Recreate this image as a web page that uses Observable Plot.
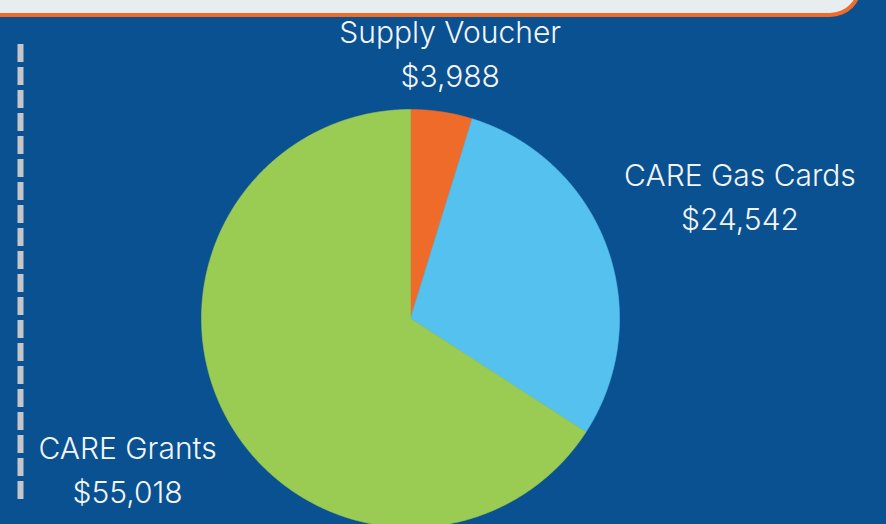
<!DOCTYPE html>
<html>
<head>
<meta charset="utf-8">
<script src="https://cdn.jsdelivr.net/npm/d3@7"></script>
<script src="https://cdn.jsdelivr.net/npm/@observablehq/plot@0.6"></script>
<style>
  html, body { margin: 0; padding: 0; }
  body { width: 886px; height: 524px; background: #0a5191; overflow: hidden; position: relative; font-family: Inter, "Noto Sans", sans-serif; }
  #topbox { position: absolute; left: -20px; top: -40px; width: 882px; height: 57px; box-sizing: border-box;
            background: #e8edf0; border-bottom: 4.5px solid #ef6b2a; border-right: 4.5px solid #ef6b2a;
            border-radius: 0 0 32px 0; z-index: 1; }
  #chart { position: absolute; left: 0; top: 0; z-index: 2; }
</style>
</head>
<body>
<div id="topbox"></div>
<div id="chart"></div>
<script>
// ---- data ----
const categories = ["Supply Voucher", "CARE Gas Cards", "CARE Grants"];
const amounts = [3988, 24542, 55018];
const sliceColors = ["#ef6b2a", "#55c1ee", "#9acb53"];
// label distance from centre, in pie radii (layout)
const labelRadius = [1.272, 1.677, 1.541];

// ---- layout ----
const W = 886, H = 524;
const cx = 410, cy = 318, R = 209;

const fmt = d3.format("$,");
const pie = d3.pie().sort(null).value(d => d)(amounts);

// polygon points for each slice (angles from d3.pie, clockwise from north)
const pts = [];
pie.forEach((p, i) => {
  const cat = categories[i];
  pts.push({cat, x: 0, y: 0});
  const n = Math.max(2, Math.ceil((p.endAngle - p.startAngle) / 0.005));
  for (let k = 0; k <= n; k++) {
    const a = p.startAngle + (p.endAngle - p.startAngle) * k / n;
    pts.push({cat, x: Math.sin(a), y: Math.cos(a)});
  }
  pts.push({cat, x: 0, y: 0});
});

const labels = pie.map((p, i) => {
  const a = (p.startAngle + p.endAngle) / 2;
  return {
    cat: categories[i],
    text: categories[i] + "\n" + fmt(amounts[i]),
    x: Math.sin(a) * labelRadius[i],
    y: Math.cos(a) * labelRadius[i]
  };
});

const dashX = (20 - cx) / R;

const chart = Plot.plot({
  width: W, height: H,
  margin: 0,
  x: {domain: [-cx / R, (W - cx) / R], axis: null},
  y: {domain: [-(H - cy) / R, cy / R], axis: null},
  color: {domain: categories, range: sliceColors},
  style: {background: "transparent", overflow: "visible"},
  marks: [
    Plot.ruleX([dashX], {y1: (cy - 44) / R, y2: (cy - 501) / R, stroke: "#c4c6c9", strokeWidth: 6, strokeDasharray: "18,5"}),
    Plot.line(pts, {x: "x", y: "y", z: "cat", fill: "cat", stroke: "cat", strokeWidth: 0.6, curve: "linear"}),
    Plot.text(labels, {x: "x", y: "y", text: "text", fill: "#f3f5f8", fontSize: 30, lineHeight: 1.47, dy: -5,
      fontFamily: "Inter, 'Noto Sans', sans-serif", fontWeight: 300, textAnchor: "middle", lineAnchor: "middle"})
  ]
});
document.getElementById("chart").appendChild(chart);
</script>
</body>
</html>
